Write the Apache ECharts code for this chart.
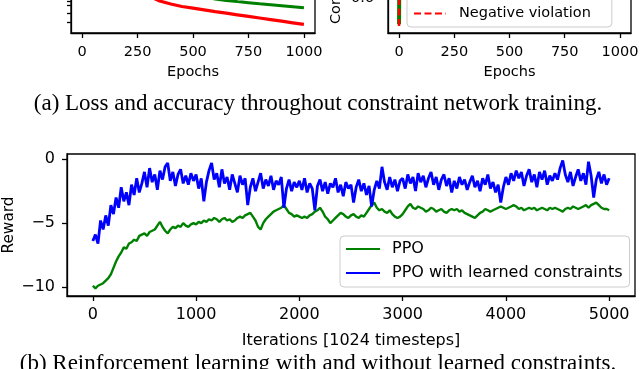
<!DOCTYPE html>
<html lang="en">
<head>
<meta charset="UTF-8">
<script src="https://cdn.jsdelivr.net/npm/echarts@6/dist/echarts.min.js"></script>
<title>Constraint network / PPO reward</title>
<style>
  body { margin: 0; padding: 0; background: #fff; }
  #chart { width: 640px; height: 369px; }
</style>
</head>
<body>
<div id="chart"></div>
<script>
  // (a) left: loss curves, only the bottom part is visible (plotted in px above the axis)
  const lossEpochs = [0, 50, 100, 150, 200, 250, 300, 350, 400, 450, 500,
                      550, 600, 650, 700, 750, 800, 850, 900, 950, 1000];
  const lossRed = [300, 170, 110, 80, 60, 46, 37, 32, 29, 26.5, 24.8,
                   23.1, 21.4, 19.8, 18.2, 16.6, 15.0, 13.4, 11.8, 10.2, 8.6];
  const lossGreen = [200, 140, 110, 88, 75, 64, 56, 50, 45, 41.5, 38.5,
                     36, 34, 32.6, 31.4, 30.3, 29.2, 28.2, 27.2, 26.2, 25.2];
  const lossMinorTicks = [11, 20, 28, 32];

  // (a) right: accuracy plot, mostly cut off above the picture
  const accEpochs = [0, 2, 5, 10, 20, 50, 100, 200, 300, 400, 500, 600, 700, 800, 900, 1000];
  const accGreen = [0.45, 0.86, 0.91, 0.93, 0.95, 0.96, 0.97, 0.975, 0.98, 0.98, 0.982, 0.984, 0.985, 0.986, 0.987, 0.988];
  const negViolation = [0.44, 0.80, 0.87, 0.90, 0.92, 0.94, 0.95, 0.96, 0.965, 0.97, 0.97, 0.972, 0.974, 0.975, 0.976, 0.977];
  const accTicks = [0.6, 0.8, 1.0, 1.2];

  const epochTicks = [0, 250, 500, 750, 1000];

  // (b) reward, one value every 25 iterations, 0..5000
  const rlStep = 25;
  const ppo = [
    -9.9, -10.1, -9.9, -9.8, -9.7, -9.5, -9.3, -9.0, -8.5, -8.0, -7.6, -7.3, -6.9, -7.0, -6.6, -6.5, -6.3, -6.4, -6.0, -5.9,
    -5.8, -6.0, -5.7, -5.6, -5.5, -5.2, -4.9, -5.3, -5.6, -5.8, -5.5, -5.3, -5.4, -5.2, -5.3, -5.0, -5.2, -5.3, -5.1, -5.0,
    -5.1, -4.9, -5.0, -4.8, -4.9, -4.7, -4.8, -4.6, -4.7, -4.9, -4.7, -4.6, -4.8, -4.7, -4.9, -4.8, -4.6, -4.5, -4.6, -4.4,
    -4.3, -4.2, -4.5, -4.8, -5.3, -5.5, -5.0, -4.7, -4.5, -4.3, -4.1, -4.0, -3.9, -3.8, -3.6, -3.9, -4.2, -4.3, -4.5, -4.4,
    -4.5, -4.6, -4.5, -4.6, -4.4, -4.3, -4.1, -4.0, -3.8, -4.1, -4.5, -4.7, -5.0, -4.8, -4.6, -4.4, -4.2, -4.3, -4.5, -4.6,
    -4.4, -4.3, -4.5, -4.6, -4.4, -4.5, -4.2, -3.9, -3.6, -3.4, -3.8, -4.0, -3.9, -4.1, -4.2, -4.0, -4.3, -4.5, -4.6, -4.5,
    -4.3, -4.0, -3.7, -3.5, -3.8, -3.9, -3.7, -3.8, -3.9, -4.1, -4.0, -3.8, -3.9, -4.1, -4.0, -3.9, -4.1, -4.2, -4.0, -3.9,
    -4.0, -3.9, -4.1, -4.0, -4.2, -4.3, -4.4, -4.5, -4.6, -4.4, -4.2, -4.1, -3.9, -4.0, -4.1, -4.0, -3.9, -3.8, -3.7, -3.8,
    -3.9, -3.8, -3.7, -3.6, -3.7, -3.9, -3.8, -4.0, -3.9, -3.8, -3.9, -3.8, -4.0, -3.9, -3.8, -3.9, -4.0, -3.8, -3.9, -3.8,
    -3.9, -4.0, -4.1, -3.9, -3.8, -3.9, -3.7, -3.8, -3.9, -3.8, -3.7, -3.6, -3.8, -3.6, -3.5, -3.4, -3.6, -3.8, -3.9, -3.9,
    -4.0
  ];
  const ppoConstrained = [
    -6.4, -5.9, -6.6, -4.8, -5.5, -4.4, -5.2, -3.6, -4.3, -3.0, -3.8, -2.2, -3.3, -2.6, -3.6, -2.0, -2.8, -1.5, -2.6, -1.9,
    -1.0, -2.2, -0.7, -1.8, -1.2, -2.4, -0.9, -1.6, -0.6, -0.3, -1.7, -1.0, -2.1, -1.2, -0.8, -1.9, -1.3, -2.0, -1.1, -1.7,
    -1.2, -2.3, -1.5, -3.3, -1.8, -0.9, -0.3, -1.6, -1.1, -2.2, -0.8, -1.9, -1.4, -2.4, -1.2, -1.9, -2.6, -1.3, -2.0, -1.5,
    -3.6, -2.2, -1.5, -2.5, -1.8, -1.1, -2.3, -1.6, -2.1, -1.3, -2.4, -1.7, -2.0, -1.4, -3.8, -2.3, -1.6, -2.5, -1.8, -2.2,
    -1.7, -2.4, -1.5, -2.6, -1.9, -2.3, -4.0, -2.1, -1.6, -2.5, -1.8, -2.7, -1.9, -2.2, -1.5, -2.6, -2.0, -2.9, -1.8, -2.3,
    -2.0, -3.4, -2.2, -1.6, -2.5, -1.9, -2.8, -2.1, -3.7, -2.4, -1.7, -2.3, -0.6, -1.8, -2.4, -1.4, -2.2, -1.6, -2.5, -1.7,
    -1.5, -2.3, -1.2, -1.9, -1.4, -2.5, -1.1, -1.8, -1.3, -2.2, -1.5, -1.0, -2.0, -1.4, -2.4, -1.6, -1.2, -2.1, -1.5, -2.6,
    -1.7, -2.3, -1.4, -2.0, -1.6, -2.4, -1.8, -1.3, -2.2, -1.7, -2.5, -1.5, -2.0, -1.2, -2.3, -1.8, -2.6, -2.0, -3.4, -2.2,
    -1.4, -2.0, -1.1, -1.7, -0.9, -1.5, -1.0, -2.1, -1.3, -0.8, -1.8, -1.2, -2.2, -1.0, -1.6, -0.9, -2.0, -1.3, -1.7, -1.1,
    -1.6, -0.7, -0.1, -1.2, -1.8, -1.0, -2.1, -1.4, -0.8, -1.7, -1.1, -2.0, -0.2, -1.3, -3.0, -1.6, -1.0, -1.9, -1.2, -2.0,
    -1.5
  ];
  const rlTicks = [0, 1000, 2000, 3000, 4000, 5000];
  const rewardTicks = [-10, -5, 0];

  const FONT = 'DejaVu Sans';
  const AXIS_LINE = { show: true, onZero: false, lineStyle: { color: '#000', width: 1.3 } };

  function pairs(xs, ys) {
    return ys.map((v, i) => [xs[i], v]);
  }
  function stepPairs(ys, step) {
    return ys.map((v, i) => [i * step, v]);
  }
  function minus(v) {
    return String(v).replace('-', '\u2212');
  }

  const chart = echarts.init(document.getElementById('chart'), null, { renderer: 'canvas' });

  function gridAt(left, top, width, height) {
    return {
      left: left, top: top, width: width, height: height,
      outerBoundsMode: 'none', containLabel: false,
      show: true, borderColor: '#000', borderWidth: 1.3, backgroundColor: 'transparent'
    };
  }

  function tickStyle(ticks, len) {
    return { show: true, inside: false, length: len, customValues: ticks, lineStyle: { color: '#000', width: 1.3 } };
  }

  function xAxisFor(grid, min, max, ticks, size, gap, margin, tickLen) {
    return {
      type: 'value', gridIndex: grid, min: min, max: max,
      axisLine: AXIS_LINE,
      splitLine: { show: false },
      axisTick: tickStyle(ticks, tickLen),
      axisLabel: { customValues: ticks, color: '#000', fontFamily: FONT, fontSize: size, margin: margin, formatter: minus },
      name: grid === 2 ? 'Iterations [1024 timesteps]' : 'Epochs',
      nameLocation: 'middle', nameGap: gap, nameMoveOverlap: false,
      nameTextStyle: { color: '#000', fontFamily: FONT, fontSize: size }
    };
  }

  const option = {
    animation: false,
    backgroundColor: '#fff',
    grid: [
      gridAt(71, -67, 244, 100),
      gridAt(388, -142, 243, 175),
      gridAt(67, 154, 568, 142)
    ],
    xAxis: [
      xAxisFor(0, -50, 1050, epochTicks, 14.5, 32, 12, 5),
      xAxisFor(1, -50, 1050, epochTicks, 14.5, 32, 12, 5),
      xAxisFor(2, -250, 5250, rlTicks, 16, 37, 11, 5)
    ],
    yAxis: [
      {
        type: 'value', gridIndex: 0, min: 0, max: 100,
        axisLine: AXIS_LINE, splitLine: { show: false },
        axisTick: tickStyle(lossMinorTicks, 4),
        axisLabel: { show: false }
      },
      {
        type: 'value', gridIndex: 1, min: 0.4, max: 1.4,
        axisLine: AXIS_LINE, splitLine: { show: false },
        axisTick: tickStyle(accTicks, 5),
        axisLabel: { customValues: accTicks, color: '#000', fontFamily: FONT, fontSize: 14.5, margin: 14,
                     formatter: v => v.toFixed(1) }
      },
      {
        type: 'value', gridIndex: 2, min: -10.7, max: 0.4,
        axisLine: AXIS_LINE, splitLine: { show: false },
        axisTick: tickStyle(rewardTicks, 5),
        axisLabel: { customValues: rewardTicks, color: '#000', fontFamily: FONT, fontSize: 16, margin: 12, formatter: minus },
        name: 'Reward', nameLocation: 'middle', nameGap: 50, nameMoveOverlap: false,
        nameTextStyle: { color: '#000', fontFamily: FONT, fontSize: 15.3 }
      }
    ],
    legend: [
      {
        data: ['Accuracy', 'Negative violation'],
        orient: 'vertical', left: 407, top: -21,
        itemWidth: 32, itemHeight: 12, itemGap: 7,
        padding: [5, 21, 6, 6],
        itemStyle: { opacity: 0 },
        backgroundColor: 'rgba(255,255,255,0.8)', borderColor: '#cccccc', borderWidth: 1, borderRadius: 4,
        textStyle: { color: '#000', fontFamily: FONT, fontSize: 14.5, padding: [0, 0, 0, 8] }
      },
      {
        data: ['PPO', 'PPO with learned constraints'],
        orient: 'vertical', left: 340, top: 236,
        itemWidth: 34, itemHeight: 14, itemGap: 8,
        padding: [5, 7, 6, 5],
        itemStyle: { opacity: 0 },
        backgroundColor: 'rgba(255,255,255,0.8)', borderColor: '#cccccc', borderWidth: 1, borderRadius: 4,
        textStyle: { color: '#000', fontFamily: FONT, fontSize: 16, padding: [0, 0, 0, 7] }
      }
    ],
    graphic: [
      {
        type: 'text', x: 336, y: 24, rotation: Math.PI / 2,
        style: { text: 'Correct classification rate', font: '14.5px "DejaVu Sans"', fill: '#000', align: 'left', verticalAlign: 'middle' }
      },
      {
        type: 'text', x: 318, y: 104,
        style: { text: '(a) Loss and accuracy throughout constraint network training.', font: '23px "Liberation Serif"', fill: '#000', align: 'center', verticalAlign: 'middle' }
      },
      {
        type: 'text', x: 318, y: 364,
        style: { text: '(b) Reinforcement learning with and without learned constraints.', font: '23px "Liberation Serif"', fill: '#000', align: 'center', verticalAlign: 'middle' }
      }
    ],
    series: [
      { name: 'Validation loss', type: 'line', xAxisIndex: 0, yAxisIndex: 0, symbol: 'none', silent: true,
        data: pairs(lossEpochs, lossGreen), lineStyle: { color: '#008000', width: 3 }, itemStyle: { color: '#008000' } },
      { name: 'Training loss', type: 'line', xAxisIndex: 0, yAxisIndex: 0, symbol: 'none', silent: true,
        data: pairs(lossEpochs, lossRed), lineStyle: { color: '#ff0000', width: 3.2 }, itemStyle: { color: '#ff0000' } },
      { name: 'Accuracy', type: 'line', xAxisIndex: 1, yAxisIndex: 1, symbol: 'none', silent: true,
        data: pairs(accEpochs, accGreen), lineStyle: { color: '#008000', width: 4 }, itemStyle: { color: '#008000' } },
      { name: 'Negative violation', type: 'line', xAxisIndex: 1, yAxisIndex: 1, symbol: 'none', silent: true,
        data: pairs(accEpochs, negViolation), lineStyle: { color: '#ff0000', width: 2.5, type: [7, 3.5] }, itemStyle: { color: '#ff0000' } },
      { name: 'PPO', type: 'line', xAxisIndex: 2, yAxisIndex: 2, symbol: 'none', silent: true,
        data: stepPairs(ppo, rlStep), lineStyle: { color: '#008000', width: 2.4 }, itemStyle: { color: '#008000' } },
      { name: 'PPO with learned constraints', type: 'line', xAxisIndex: 2, yAxisIndex: 2, symbol: 'none', silent: true,
        data: stepPairs(ppoConstrained, rlStep), lineStyle: { color: '#0000ff', width: 2.8 }, itemStyle: { color: '#0000ff' } }
    ]
  };

  chart.setOption(option);
</script>
</body>
</html>
